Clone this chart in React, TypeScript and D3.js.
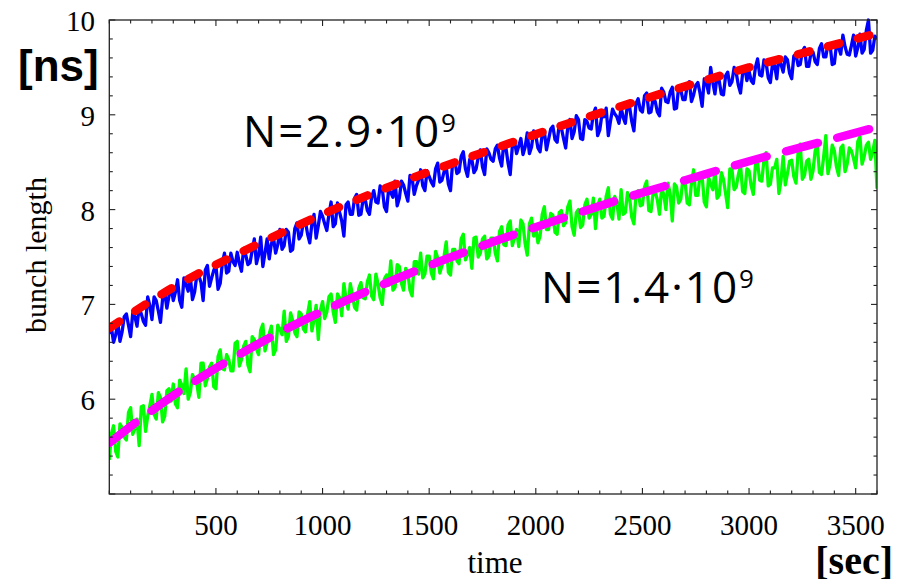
import React from 'react';
import * as d3 from 'd3';

// x axis major tick labels (seconds)
const X_TICKS = [500, 1000, 1500, 2000, 2500, 3000, 3500];
// y axis major tick labels (ns)
const Y_TICKS = [6, 7, 8, 9, 10];

// sampling interval of the measured traces (s)
const SAMPLE_STEP = 10;

// measured bunch length, N = 2.9e9 (blue)
const BLUE = [
  6.69, 6.75, 6.60, 6.68, 6.81, 6.61, 6.71, 6.87, 6.90, 6.78, 6.66, 6.91, 6.87, 6.77, 6.97, 6.90, 6.82, 6.78, 7.08, 6.99, 6.84, 7.08, 7.04, 6.93, 6.81, 7.06, 7.12, 6.96, 7.09, 7.18,
  7.04, 7.13, 7.26, 7.04, 6.97, 7.28, 7.21, 7.14, 7.29, 7.05, 7.13, 7.30, 7.30, 7.23, 7.04, 7.36, 7.41, 7.19, 7.28, 7.36, 7.41, 7.16, 7.22, 7.43, 7.54, 7.33, 7.35, 7.54, 7.45, 7.41,
  7.55, 7.43, 7.35, 7.59, 7.52, 7.42, 7.44, 7.57, 7.69, 7.43, 7.52, 7.71, 7.40, 7.54, 7.69, 7.48, 7.64, 7.70, 7.54, 7.63, 7.79, 7.58, 7.62, 7.79, 7.76, 7.56, 7.58, 7.80, 7.86, 7.69,
  7.73, 7.87, 7.87, 7.74, 7.65, 7.85, 7.95, 7.70, 7.83, 7.98, 7.93, 7.85, 7.78, 7.95, 8.08, 7.82, 7.85, 8.07, 7.97, 7.88, 7.72, 8.05, 8.08, 7.95, 7.95, 8.12, 8.16, 7.94, 7.95, 8.11,
  8.11, 7.99, 7.95, 8.13, 8.20, 8.08, 8.07, 8.25, 8.22, 8.03, 7.98, 8.22, 8.18, 8.13, 8.30, 8.04, 8.12, 8.30, 8.26, 8.17, 8.09, 8.36, 8.33, 8.16, 8.25, 8.31, 8.42, 8.25, 8.20, 8.41,
  8.35, 8.29, 8.25, 8.43, 8.49, 8.29, 8.31, 8.40, 8.45, 8.27, 8.20, 8.50, 8.52, 8.38, 8.40, 8.56, 8.61, 8.43, 8.35, 8.53, 8.53, 8.39, 8.43, 8.55, 8.63, 8.45, 8.37, 8.64, 8.60, 8.53,
  8.51, 8.64, 8.68, 8.54, 8.46, 8.70, 8.65, 8.49, 8.37, 8.67, 8.72, 8.59, 8.67, 8.75, 8.58, 8.66, 8.81, 8.59, 8.66, 8.83, 8.78, 8.65, 8.61, 8.79, 8.83, 8.63, 8.74, 8.85, 8.88, 8.74,
  8.71, 8.90, 8.86, 8.75, 8.65, 8.87, 8.95, 8.75, 8.82, 8.99, 8.95, 8.75, 8.74, 8.95, 8.93, 8.86, 8.85, 9.01, 9.07, 8.78, 8.84, 9.00, 8.98, 9.07, 8.78, 8.93, 9.06, 9.01, 8.98, 8.91,
  9.08, 8.97, 8.91, 9.12, 9.08, 8.93, 8.83, 9.12, 9.17, 9.05, 9.03, 9.20, 9.23, 9.02, 9.03, 9.17, 9.14, 9.03, 8.99, 9.28, 9.24, 9.14, 9.13, 9.24, 9.29, 9.06, 9.07, 9.30, 9.26, 9.16,
  9.16, 9.31, 9.35, 9.14, 9.21, 9.31, 9.34, 9.23, 9.09, 9.38, 9.34, 9.23, 9.50, 9.34, 9.22, 9.41, 9.36, 9.22, 9.21, 9.41, 9.45, 9.31, 9.35, 9.50, 9.44, 9.31, 9.23, 9.44, 9.50, 9.36,
  9.46, 9.36, 9.33, 9.50, 9.59, 9.42, 9.41, 9.58, 9.55, 9.39, 9.34, 9.54, 9.52, 9.38, 9.61, 9.53, 9.45, 9.61, 9.58, 9.44, 9.38, 9.62, 9.64, 9.52, 9.53, 9.67, 9.71, 9.51, 9.51, 9.65,
  9.66, 9.56, 9.53, 9.70, 9.75, 9.61, 9.61, 9.75, 9.74, 9.53, 9.54, 9.74, 9.71, 9.64, 9.84, 9.72, 9.64, 9.63, 9.73, 9.84, 9.62, 9.71, 9.85, 9.65, 9.69, 9.89, 10.00, 9.65, 9.68, 9.83,
  9.80,
];

// measured bunch length, N = 1.4e9 (green)
const GREEN = [
  5.36, 5.64, 5.72, 5.45, 5.39, 5.74, 5.70, 5.60, 5.57, 5.86, 5.91, 5.63, 5.69, 5.79, 5.51, 5.92, 5.93, 5.66, 5.82, 5.93, 6.05, 5.84, 5.79, 6.07, 6.02, 5.76, 5.82, 6.09, 6.11, 5.98,
  6.16, 5.95, 5.91, 6.20, 6.15, 6.06, 6.32, 6.00, 6.07, 6.26, 6.21, 6.17, 6.02, 6.38, 6.38, 6.14, 6.22, 6.34, 6.38, 6.13, 6.11, 6.45, 6.52, 6.32, 6.31, 6.47, 6.42, 6.30, 6.30, 6.59,
  6.61, 6.35, 6.42, 6.56, 6.61, 6.36, 6.29, 6.66, 6.63, 6.53, 6.47, 6.73, 6.79, 6.51, 6.60, 6.69, 6.77, 6.47, 6.52, 6.78, 6.74, 6.68, 6.93, 6.61, 6.66, 6.91, 6.83, 6.70, 6.66, 6.92,
  6.90, 6.74, 6.71, 6.90, 7.03, 6.72, 6.83, 6.99, 6.63, 6.94, 7.03, 6.85, 6.92, 7.08, 7.11, 6.92, 6.81, 7.11, 7.07, 6.88, 7.22, 7.06, 6.95, 7.22, 7.10, 6.97, 6.94, 7.17, 7.23, 7.07,
  7.06, 7.24, 7.31, 7.09, 7.05, 7.32, 7.22, 7.07, 7.00, 7.27, 7.31, 7.20, 7.46, 7.15, 7.18, 7.42, 7.40, 7.22, 7.15, 7.38, 7.33, 7.15, 7.09, 7.45, 7.45, 7.32, 7.54, 7.28, 7.32, 7.51,
  7.51, 7.33, 7.27, 7.56, 7.49, 7.33, 7.41, 7.51, 7.66, 7.34, 7.31, 7.58, 7.58, 7.46, 7.43, 7.69, 7.74, 7.47, 7.53, 7.60, 7.38, 7.70, 7.71, 7.50, 7.54, 7.69, 7.72, 7.48, 7.51, 7.70,
  7.70, 7.54, 7.46, 7.77, 7.82, 7.63, 7.62, 7.84, 7.88, 7.62, 7.70, 7.79, 7.61, 7.89, 7.85, 7.64, 7.52, 7.85, 7.91, 7.72, 7.82, 7.65, 7.72, 7.95, 8.03, 7.79, 7.79, 7.96, 7.94, 7.76,
  7.74, 7.97, 7.99, 7.83, 7.86, 8.03, 8.09, 7.82, 7.73, 7.97, 8.00, 7.81, 7.84, 8.05, 8.11, 7.91, 7.95, 8.12, 7.80, 8.04, 8.11, 7.91, 7.93, 8.14, 8.23, 7.95, 7.90, 8.14, 8.08, 7.90,
  8.21, 7.95, 7.97, 8.18, 8.12, 7.92, 7.85, 8.16, 8.20, 8.04, 8.05, 8.24, 8.30, 7.99, 7.98, 8.17, 8.19, 8.10, 7.95, 8.23, 8.16, 8.00, 8.28, 8.17, 7.88, 8.27, 8.24, 8.07, 8.11, 8.33,
  8.29, 8.07, 8.05, 8.28, 8.42, 8.15, 8.15, 8.37, 8.35, 8.08, 8.03, 8.34, 8.27, 8.21, 8.41, 8.12, 8.15, 8.39, 8.32, 8.17, 8.02, 8.43, 8.42, 8.21, 8.24, 8.37, 8.47, 8.19, 8.17, 8.43,
  8.41, 8.25, 8.16, 8.47, 8.49, 8.31, 8.30, 8.53, 8.60, 8.25, 8.27, 8.44, 8.44, 8.53, 8.17, 8.31, 8.56, 8.26, 8.38, 8.51, 8.52, 8.35, 8.28, 8.60, 8.69, 8.32, 8.36, 8.51, 8.53, 8.32,
  8.41, 8.62, 8.68, 8.39, 8.37, 8.56, 8.78, 8.38, 8.48, 8.68, 8.62, 8.45, 8.36, 8.65, 8.68, 8.40, 8.48, 8.65, 8.62, 8.54, 8.44, 8.72, 8.77, 8.48, 8.56, 8.68, 8.71, 8.53, 8.61, 8.73,
  8.22,
];

// fitted curves (dashed)
const FIT_T = [0, 300, 600, 900, 1200, 1500, 1800, 2100, 2400, 2700, 3000, 3300, 3600];
const RED_FIT = [6.75, 7.18, 7.53, 7.85, 8.14, 8.40, 8.64, 8.87, 9.09, 9.30, 9.50, 9.68, 9.86];
const MAGENTA_FIT = [5.54, 6.04, 6.46, 6.82, 7.13, 7.41, 7.66, 7.89, 8.11, 8.31, 8.51, 8.69, 8.87];

export default function App() {
  const W = 904;
  const H = 579;
  const left = 109.3, right = 877, top = 20, bottom = 494;
  const x = d3.scaleLinear().domain([0, 3600]).range([left, right]);
  const y = d3.scaleLinear().domain([5, 10]).range([bottom, top]);

  const noisy = d3
    .line<number>()
    .x((_, i) => x(i * SAMPLE_STEP))
    .y((d) => y(d));
  const fit = d3
    .line<number>()
    .x((_, i) => x(FIT_T[i]))
    .y((d) => y(d))
    .curve(d3.curveMonotoneX);

  const xMinor = x.ticks(36);
  const yMinor = y.ticks(25);
  const majLen = 6, minLen = 3.5;
  const axisColor = '#222';
  const serif = '"Liberation Serif", "Times New Roman", serif';
  const sans = '"Open Sans", "Liberation Sans", sans-serif';

  return (
    <svg width={W} height={H} style={{ position: 'absolute', left: 0, top: 0, background: '#fff' }}>
      <defs>
        <clipPath id="plotclip">
          <rect x={left} y={top - 2} width={right - left} height={bottom - top + 2} />
        </clipPath>
      </defs>

      <g clipPath="url(#plotclip)" fill="none" strokeLinejoin="round">
        <path d={noisy(BLUE) || ''} stroke="#0000ff" strokeWidth={3.3} />
        <path d={fit(RED_FIT) || ''} stroke="#ff0000" strokeWidth={8.5} strokeLinecap="round" strokeDasharray="12 19" />
        <path d={noisy(GREEN) || ''} stroke="#00ff00" strokeWidth={3.3} />
        <path d={fit(MAGENTA_FIT) || ''} stroke="#ff00ff" strokeWidth={8.5} strokeLinecap="round" strokeDasharray="33 20" />
      </g>

      {/* frame */}
      <rect x={left} y={top} width={right - left} height={bottom - top} fill="none" stroke={axisColor} strokeWidth={1.3} />

      {/* x ticks top & bottom */}
      {xMinor.map((t) => {
        const major = X_TICKS.includes(t);
        const len = major ? majLen : minLen;
        return (
          <g key={'xt' + t} stroke={axisColor} strokeWidth={1.1}>
            <line x1={x(t)} x2={x(t)} y1={bottom} y2={bottom - len} />
            <line x1={x(t)} x2={x(t)} y1={top} y2={top + len} />
          </g>
        );
      })}
      {/* y ticks left & right */}
      {yMinor.map((v) => {
        const major = Math.abs(v - Math.round(v)) < 1e-6;
        const len = major ? majLen : minLen;
        return (
          <g key={'yt' + v} stroke={axisColor} strokeWidth={1.1}>
            <line x1={left} x2={left + len} y1={y(v)} y2={y(v)} />
            <line x1={right} x2={right - len} y1={y(v)} y2={y(v)} />
          </g>
        );
      })}

      {/* tick labels */}
      {X_TICKS.map((t) => (
        <text key={'xl' + t} x={x(t)} y={535} textAnchor="middle" fontFamily={serif} fontSize={29} fill="#000">
          {t}
        </text>
      ))}
      {Y_TICKS.map((v) => (
        <text key={'yl' + v} x={95} y={y(v) + 11} textAnchor="end" fontFamily={serif} fontSize={29} fill="#000">
          {v}
        </text>
      ))}

      {/* axis labels */}
      <text x={46} y={255} transform="rotate(-90 46 255)" textAnchor="middle" fontFamily={serif} fontSize={30} fill="#000">
        bunch length
      </text>
      <text x={495} y={573} textAnchor="middle" fontFamily={serif} fontSize={31} fill="#000">
        time
      </text>
      <text x={18} y={81} fontFamily='"Liberation Sans", Arial, sans-serif' fontWeight="bold" fontSize={44} fill="#000">
        [ns]
      </text>
      <text x={893} y={574} textAnchor="end" fontFamily={serif} fontWeight="bold" fontSize={40} fill="#000">
        [sec]
      </text>

      {/* annotations */}
      <text x={243} y={147} fontFamily={sans} fontSize={44} letterSpacing={2} fill="#000">
        N=2.9·10<tspan dy={-15} fontSize={26}>9</tspan>
      </text>
      <text x={541} y={303} fontFamily={sans} fontSize={44} letterSpacing={2} fill="#000">
        N=1.4·10<tspan dy={-15} fontSize={26}>9</tspan>
      </text>
    </svg>
  );
}
